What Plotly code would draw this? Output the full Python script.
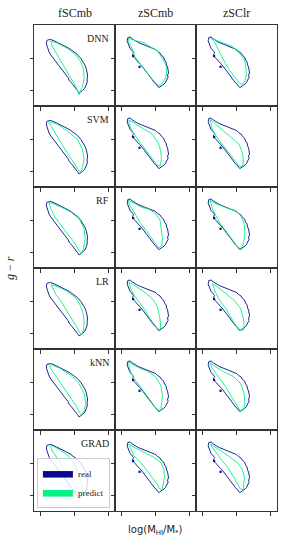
import plotly.graph_objects as go
from plotly.subplots import make_subplots

methods = ["DNN", "SVM", "RF", "LR", "kNN", "GRAD"]
columns = ["fSCmb", "zSCmb", "zSClr"]
x_ticks = [-1, 0, 1]
y_ticks = [0.4, 0.8]

# real sample contour, fSCmb
real_f_x = [-0.80,-0.70,-0.60,-0.50,-0.38,-0.25,-0.13,-0.01,0.09,0.19,0.26,0.31,0.35,0.37,0.39,0.38,0.38,0.35,0.30,0.24,0.19,0.14,0.09,0.04,-0.02,-0.07,-0.12,-0.16,-0.19,-0.25,-0.30,-0.34,-0.40,-0.45,-0.49,-0.55,-0.60,-0.64,-0.70,-0.75,-0.79,-0.82,-0.83]
real_f_y = [1.025,1.031,1.015,0.996,0.969,0.941,0.913,0.879,0.844,0.796,0.756,0.713,0.669,0.629,0.588,0.546,0.500,0.463,0.419,0.394,0.381,0.363,0.394,0.425,0.456,0.481,0.506,0.525,0.556,0.588,0.613,0.644,0.671,0.694,0.725,0.754,0.781,0.806,0.838,0.875,0.919,0.963,1.000]

# real sample contour, zSCmb / zSClr
real_z_x = [-0.817,-0.749,-0.689,-0.630,-0.571,-0.512,-0.438,-0.364,-0.290,-0.216,-0.142,-0.068,0.006,0.065,0.139,0.183,0.243,0.272,0.317,0.331,0.361,0.376,0.391,0.361,0.376,0.331,0.302,0.257,0.198,0.154,0.109,0.065,0.036,-0.009,-0.053,-0.098,-0.142,-0.186,-0.231,-0.275,-0.320,-0.379,-0.423,-0.468,-0.512,-0.556,-0.601,-0.645,-0.675,-0.645,-0.704,-0.749,-0.778,-0.808,-0.837]
real_z_y = [1.056,1.062,1.040,1.019,1.009,0.994,0.981,0.965,0.956,0.938,0.931,0.912,0.906,0.881,0.862,0.831,0.812,0.775,0.750,0.713,0.688,0.650,0.613,0.588,0.556,0.525,0.494,0.475,0.456,0.438,0.431,0.444,0.469,0.481,0.506,0.525,0.556,0.581,0.613,0.631,0.663,0.688,0.713,0.731,0.756,0.775,0.794,0.813,0.844,0.869,0.894,0.919,0.950,0.981,1.013]
real_z_blob_x = [-0.66, -0.47]
real_z_blob_y = [0.825, 0.69]

# predicted contours, fSCmb
f_dnn_x = [-0.70,-0.50,-0.21,0.04,0.19,0.27,0.29,0.24,0.17,0.14,0.09,-0.01,-0.16,-0.30,-0.45,-0.58,-0.65,-0.68]
f_dnn_y = [1.013,0.984,0.921,0.838,0.754,0.650,0.546,0.441,0.379,0.338,0.400,0.484,0.588,0.691,0.796,0.879,0.941,0.984]
f_svm_x = [-0.75,-0.50,-0.21,0.09,0.24,0.29,0.24,0.19,0.14,-0.01,-0.21,-0.40,-0.55,-0.68,-0.75]
f_svm_y = [1.016,0.984,0.900,0.796,0.671,0.546,0.441,0.388,0.400,0.504,0.629,0.754,0.859,0.941,1.004]
f_rf_x = [-0.75,-0.40,-0.11,0.14,0.29,0.32,0.27,0.22,0.17,-0.01,-0.21,-0.40,-0.58,-0.70]
f_rf_y = [1.025,0.963,0.900,0.816,0.691,0.566,0.441,0.379,0.400,0.525,0.629,0.734,0.838,0.941]
f_lr_x = [-0.69,-0.45,-0.21,0.04,0.19,0.27,0.29,0.27,0.22,0.17,0.04,-0.11,-0.25,-0.40,-0.55,-0.64]
f_lr_y = [1.006,0.971,0.921,0.838,0.734,0.629,0.525,0.438,0.381,0.394,0.494,0.600,0.700,0.800,0.881,0.956]
f_knn_x = [-0.75,-0.40,-0.11,0.14,0.29,0.34,0.29,0.22,0.17,0.04,-0.16,-0.36,-0.55,-0.70]
f_knn_y = [1.029,0.966,0.884,0.779,0.654,0.529,0.446,0.391,0.404,0.509,0.634,0.759,0.884,0.966]
f_grad_x = [-0.70,-0.60,-0.40,-0.21,-0.01,0.09,0.19,0.24,0.24,0.20,0.15,0.04,-0.11,-0.30,-0.50,-0.65,-0.70]
f_grad_y = [1.019,1.004,0.956,0.900,0.796,0.691,0.588,0.483,0.400,0.369,0.413,0.494,0.600,0.719,0.844,0.950,1.000]

# predicted contours, zSCmb
zm_dnn_x = [-0.80,-0.69,-0.55,-0.36,-0.25,-0.11,0.04,0.14,0.24,0.31,0.34,0.31,0.24,0.14,0.09,0.02,-0.06,-0.21,-0.36,-0.50,-0.60,-0.65,-0.72,-0.78]
zm_dnn_y = [1.046,1.031,1.013,0.996,0.963,0.929,0.900,0.838,0.775,0.713,0.629,0.563,0.500,0.463,0.456,0.481,0.525,0.596,0.671,0.754,0.816,0.879,0.941,0.996]
zm_svm_x = [-0.78,-0.63,-0.33,-0.09,0.08,0.16,0.18,0.14,0.06,-0.04,-0.19,-0.33,-0.48,-0.63,-0.73,-0.78]
zm_svm_y = [1.038,0.996,0.921,0.859,0.754,0.650,0.546,0.463,0.471,0.525,0.609,0.691,0.775,0.859,0.941,1.004]
zm_rf_x = [-0.80,-0.63,-0.43,-0.19,0.01,0.14,0.18,0.21,0.19,0.11,0.04,-0.09,-0.24,-0.43,-0.58,-0.71,-0.78]
zm_rf_y = [1.046,1.004,0.963,0.934,0.879,0.796,0.691,0.566,0.483,0.450,0.483,0.566,0.650,0.754,0.859,0.941,1.004]
zm_lr_x = [-0.78,-0.63,-0.33,-0.09,0.06,0.12,0.15,0.15,0.08,-0.04,-0.19,-0.33,-0.48,-0.63,-0.73]
zm_lr_y = [1.038,0.996,0.913,0.829,0.725,0.621,0.525,0.450,0.444,0.513,0.600,0.704,0.788,0.871,0.954]
zm_knn_x = [-0.78,-0.63,-0.43,-0.19,0.01,0.16,0.21,0.19,0.16,0.06,-0.04,-0.19,-0.33,-0.48,-0.63,-0.73,-0.78]
zm_knn_y = [1.050,1.009,0.966,0.925,0.863,0.759,0.634,0.529,0.446,0.446,0.509,0.591,0.675,0.759,0.842,0.925,0.988]
zm_grad_x = [-0.79,-0.64,-0.34,-0.05,0.15,0.25,0.27,0.23,0.20,0.13,0.05,-0.10,-0.25,-0.44,-0.64,-0.74]
zm_grad_y = [1.038,0.996,0.934,0.871,0.809,0.725,0.621,0.496,0.466,0.475,0.538,0.621,0.704,0.809,0.891,0.975]

# predicted contours, zSClr
zl_dnn_x = [-0.75,-0.60,-0.36,-0.11,0.09,0.24,0.29,0.29,0.24,0.17,0.09,-0.06,-0.21,-0.33,-0.42,-0.50,-0.58,-0.65]
zl_dnn_y = [1.046,1.025,0.984,0.941,0.859,0.775,0.671,0.566,0.504,0.471,0.484,0.566,0.650,0.734,0.816,0.879,0.941,1.004]
zl_svm_x = [-0.78,-0.61,-0.36,-0.12,0.08,0.18,0.21,0.18,0.08,-0.07,-0.27,-0.46,-0.61,-0.71,-0.76]
zl_svm_y = [1.046,0.984,0.900,0.816,0.734,0.629,0.525,0.454,0.463,0.546,0.650,0.754,0.838,0.921,1.004]
zl_rf_x = [-0.78,-0.61,-0.36,-0.07,0.13,0.23,0.25,0.21,0.13,0.03,-0.07,-0.22,-0.36,-0.51,-0.61,-0.71]
zl_rf_y = [1.046,1.004,0.963,0.921,0.859,0.754,0.629,0.504,0.441,0.463,0.525,0.609,0.691,0.775,0.859,0.941]
zl_lr_x = [-0.71,-0.56,-0.31,-0.07,0.13,0.21,0.23,0.21,0.11,-0.02,-0.17,-0.31,-0.46,-0.58,-0.66]
zl_lr_y = [1.016,0.975,0.891,0.809,0.704,0.579,0.475,0.438,0.438,0.496,0.600,0.704,0.788,0.871,0.954]
zl_knn_x = [-0.78,-0.61,-0.36,-0.07,0.13,0.23,0.25,0.21,0.11,-0.02,-0.17,-0.31,-0.46,-0.61,-0.71]
zl_knn_y = [1.040,0.988,0.925,0.863,0.779,0.654,0.529,0.446,0.446,0.529,0.634,0.738,0.821,0.904,0.966]
zl_grad_x = [-0.77,-0.62,-0.37,-0.18,0.02,0.17,0.24,0.22,0.20,0.12,0.04,-0.08,-0.22,-0.42,-0.62,-0.72]
zl_grad_y = [1.038,0.996,0.934,0.871,0.809,0.725,0.621,0.516,0.466,0.475,0.538,0.621,0.725,0.829,0.934,0.996]

pred = {
    ("fSCmb", "DNN"): (f_dnn_x, f_dnn_y), ("fSCmb", "SVM"): (f_svm_x, f_svm_y),
    ("fSCmb", "RF"): (f_rf_x, f_rf_y), ("fSCmb", "LR"): (f_lr_x, f_lr_y),
    ("fSCmb", "kNN"): (f_knn_x, f_knn_y), ("fSCmb", "GRAD"): (f_grad_x, f_grad_y),
    ("zSCmb", "DNN"): (zm_dnn_x, zm_dnn_y), ("zSCmb", "SVM"): (zm_svm_x, zm_svm_y),
    ("zSCmb", "RF"): (zm_rf_x, zm_rf_y), ("zSCmb", "LR"): (zm_lr_x, zm_lr_y),
    ("zSCmb", "kNN"): (zm_knn_x, zm_knn_y), ("zSCmb", "GRAD"): (zm_grad_x, zm_grad_y),
    ("zSClr", "DNN"): (zl_dnn_x, zl_dnn_y), ("zSClr", "SVM"): (zl_svm_x, zl_svm_y),
    ("zSClr", "RF"): (zl_rf_x, zl_rf_y), ("zSClr", "LR"): (zl_lr_x, zl_lr_y),
    ("zSClr", "kNN"): (zl_knn_x, zl_knn_y), ("zSClr", "GRAD"): (zl_grad_x, zl_grad_y),
}

REAL_C = "#0a0a8f"
PRED_C = "#00f585"
SERIF = "Liberation Serif"

def closed(xs, ys):
    return list(xs) + [xs[0]], list(ys) + [ys[0]]

fig = make_subplots(rows=6, cols=3, horizontal_spacing=0, vertical_spacing=0)

for r, m in enumerate(methods, start=1):
    for c, col in enumerate(columns, start=1):
        if col == "fSCmb":
            rx, ry = closed(real_f_x, real_f_y)
        else:
            rx, ry = closed(real_z_x, real_z_y)
        fig.add_trace(go.Scatter(x=rx, y=ry, mode="lines", line=dict(color=REAL_C, width=0.9),
                                 showlegend=False, hoverinfo="skip"), row=r, col=c)
        if col != "fSCmb":
            fig.add_trace(go.Scatter(x=real_z_blob_x, y=real_z_blob_y, mode="markers",
                                     marker=dict(color=REAL_C, size=2.2, symbol="square",
                                                 line=dict(width=0)),
                                     showlegend=False, hoverinfo="skip"), row=r, col=c)
        px_, py_ = closed(*pred[(col, m)])
        fig.add_trace(go.Scatter(x=px_, y=py_, mode="lines", line=dict(color=PRED_C, width=0.9),
                                 showlegend=False, hoverinfo="skip"), row=r, col=c)

# legend entries (patches)
fig.add_trace(go.Scatter(x=[None], y=[None], mode="lines", fill="toself", fillcolor=REAL_C,
                         line=dict(color=REAL_C, width=1), name="real"), row=6, col=1)
fig.add_trace(go.Scatter(x=[None], y=[None], mode="lines", fill="toself", fillcolor=PRED_C,
                         line=dict(color=PRED_C, width=1), name="predict"), row=6, col=1)

fig.update_xaxes(range=[-1.197, 1.204], tickvals=x_ticks, ticks="outside", ticklen=3.5,
                 tickcolor="#333", tickwidth=0.8, showticklabels=False, showline=True,
                 mirror=True, linecolor="#333", linewidth=1, showgrid=False, zeroline=False)
fig.update_yaxes(range=[0.2, 1.2125], tickvals=y_ticks, ticks="outside", ticklen=3.5,
                 tickcolor="#333", tickwidth=0.8, showticklabels=False, showline=True,
                 mirror=True, linecolor="#333", linewidth=1, showgrid=False, zeroline=False)

ann = []
for i, col in enumerate(columns):
    ann.append(dict(text=col, x=(2 * i + 1) / 6, y=1.0247, xref="paper", yref="paper",
                    xanchor="center", yanchor="middle", showarrow=False,
                    font=dict(family=SERIF, size=12, color="#222")))
for r, m in enumerate(methods):
    idx = r * 3 + 1
    xr = "x domain" if idx == 1 else f"x{idx} domain"
    yr = "y domain" if idx == 1 else f"y{idx} domain"
    ann.append(dict(text=m, x=0.945, y=0.83, xref=xr, yref=yr, xanchor="right",
                    yanchor="middle", showarrow=False,
                    font=dict(family=SERIF, size=10, color="#222")))
ann.append(dict(text="log(M<sub>HI</sub>/M<sub>*</sub>)", x=0.5, y=-0.04, xref="paper",
                yref="paper", xanchor="center", yanchor="middle", showarrow=False,
                font=dict(family="DejaVu Sans", size=10, color="#222")))
ann.append(dict(text="<i>g</i> − <i>r</i>", x=-0.099, y=0.5, xref="paper", yref="paper",
                xanchor="center", yanchor="middle", textangle=-90, showarrow=False,
                font=dict(family=SERIF, size=12, color="#222")))

fig.update_layout(
    width=291, height=548,
    margin=dict(l=34, r=14, t=25, b=37),
    paper_bgcolor="white", plot_bgcolor="rgba(0,0,0,0)",
    annotations=ann,
    legend=dict(x=0.012, y=0.006, xanchor="left", yanchor="bottom",
                bgcolor="rgba(255,255,255,0.8)", bordercolor="#ccc", borderwidth=1,
                font=dict(family=SERIF, size=9, color="#222"), tracegroupgap=0,
                itemwidth=30),
)

fig.write_html("out.html", config={"displayModeBar": False},
               post_script="document.body.style.margin='0';")
